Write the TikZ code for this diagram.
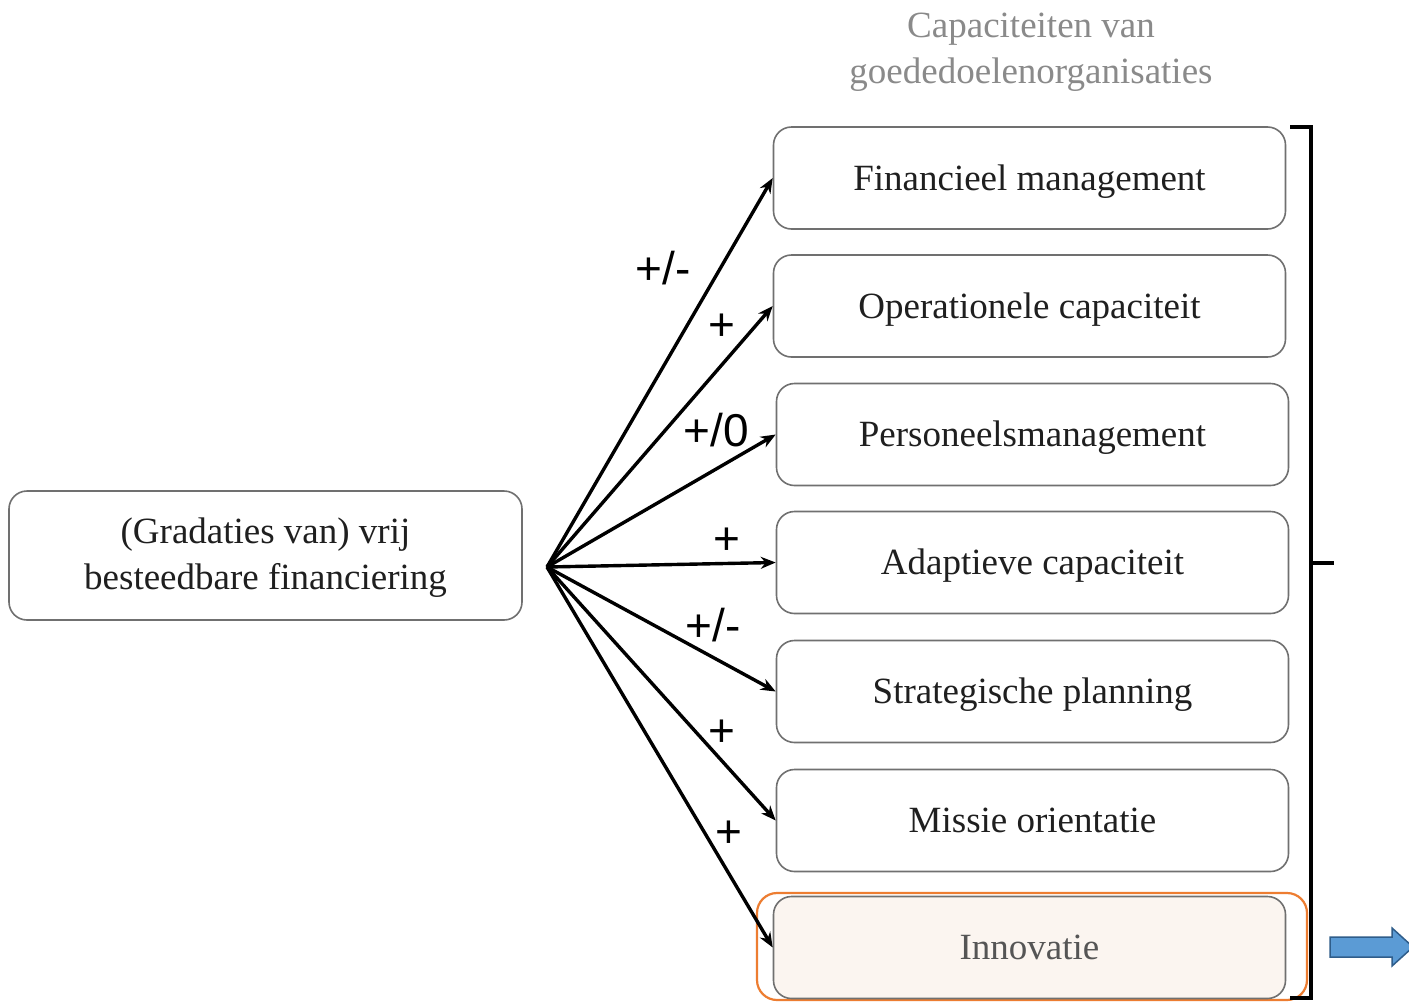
\documentclass[tikz,border=0pt]{standalone}
\usepackage{fontspec}
\setmainfont{Liberation Serif}
\newfontfamily\labfont{Liberation Sans}
\usetikzlibrary{arrows.meta}
\definecolor{boxgray}{HTML}{707070}
\definecolor{titlegray}{HTML}{8A8A8A}
\definecolor{innofill}{HTML}{FBF5F0}
\definecolor{innotext}{HTML}{555555}
\definecolor{orangeline}{HTML}{ED7D31}
\definecolor{arrowblue}{HTML}{5B9BD5}
\definecolor{arrowedge}{HTML}{2F5D8A}
\begin{document}
\begin{tikzpicture}[x=1pt,y=-1pt,
  capbox/.style={draw=boxgray, line width=1.6pt, rounded corners=18pt,
    minimum width=512pt, minimum height=102pt, inner sep=0pt,
    font=\fontsize{37}{46}\selectfont, text=black!88, align=center},
  oneline/.style={text height=30pt, text depth=6pt},
  conn/.style={line width=3.4pt, -{Stealth[length=15pt,width=12pt]}},
  lab/.style={font=\labfont\fontsize{46}{50}\selectfont, text=black, inner sep=0pt},
  brk/.style={line width=4pt}]
\useasboundingbox (0,0) rectangle (1409,1002);
\fill[white] (0,0) rectangle (1409,1002);

% title
\node[font=\fontsize{37}{46}\selectfont, text=titlegray, align=center] (title) at (1031,52)
  {Capaciteiten van\\goededoelenorganisaties};

% capacity boxes
\node[capbox, oneline] (fm) at (1029.5,178) {Financieel management};
\node[capbox, oneline] (oc) at (1029.5,306) {Operationele capaciteit};
\node[capbox, oneline] (pm) at (1032.5,434.5) {Personeelsmanagement};
\node[capbox, oneline] (ac) at (1032.5,562.5) {Adaptieve capaciteit};
\node[capbox, oneline] (sp) at (1032.5,691.5) {Strategische planning};
\node[capbox, oneline] (mo) at (1032.5,820.5) {Missie orientatie};
\node[draw=orangeline, line width=2.2pt, rounded corners=20pt, minimum width=550pt,
  minimum height=107pt, inner sep=0pt] (hl) at (1032,946.5) {};
\node[capbox, oneline, fill=innofill, text=innotext] (in) at (1029.5,947.5) {Innovatie};

% source box
\node[capbox, minimum width=513pt, minimum height=129pt, text depth=3pt] (src) at (265.5,555.5)
  {(Gradaties van) vrij\\besteedbare financiering};

% fan origin
\coordinate (o) at (547,567);

\draw[conn] (o) -- (fm.west);
\draw[conn] (o) -- (oc.west);
\draw[conn] (o) -- (pm.west);
\draw[conn] (o) -- (ac.west);
\draw[conn] (o) -- (sp.west);
\draw[conn] (o) -- (mo.west);
\draw[conn] (o) -- (in.west);

% labels
\node[lab] (l1) at (663,268) {+/-};
\node[lab] (l2) at (722,327) {+};
\node[lab] (l3) at (716,430) {+/0};
\node[lab] (l4) at (727,541) {+};
\node[lab] (l5) at (713,625) {+/-};
\node[lab] (l6) at (722,733) {+};
\node[lab] (l7) at (729,834) {+};

% bracket
\coordinate (bt) at (1290,127);
\coordinate (bb) at (1290,998);
\draw[brk] (bt) -- (1311,127) -- (1311,998) -- (bb);
\coordinate (bm) at (1311,563);
\coordinate (bme) at (1334,563);
\draw[brk] (bm) -- (bme);

% blue block arrow
\draw[fill=arrowblue, draw=arrowedge, line width=1.5pt]
  (1330,937) -- (1392,937) -- (1392,928) -- (1413,947) -- (1392,966)
  -- (1392,957) -- (1330,957) -- cycle;
\end{tikzpicture}
\end{document}
